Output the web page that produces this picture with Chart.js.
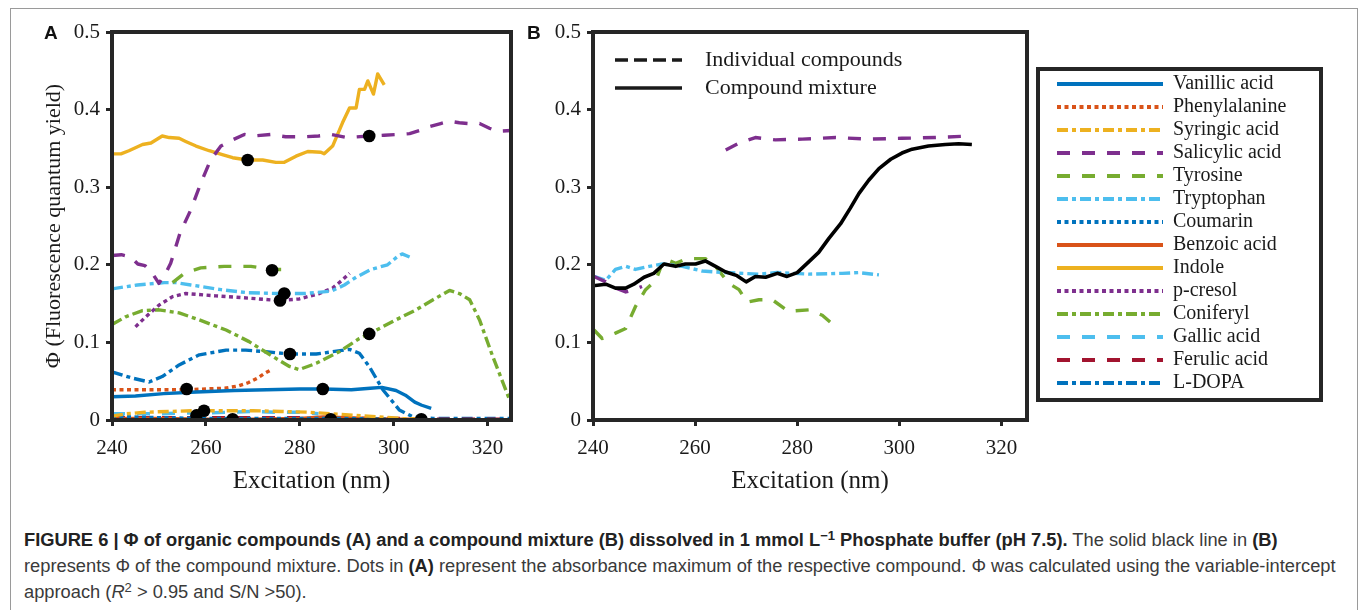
<!DOCTYPE html>
<html>
<head>
<meta charset="utf-8">
<script src="https://cdn.jsdelivr.net/npm/chart.js@4.4.1/dist/chart.umd.min.js"></script>
<style>
  body { margin: 0; width: 1360px; height: 610px; background: #fff; position: relative; overflow: hidden; font-family: "Liberation Sans", Arial, sans-serif; }
  .frame { position: absolute; left: 10px; top: 8px; width: 1346px; height: 640px; border: 1px solid #9a9a9a; }
  canvas { position: absolute; }
  .panel { position: absolute; top: 23px; font: bold 19px "Liberation Sans", Arial, sans-serif; color: #111; line-height: 20px; }
  .legend-box { position: absolute; left: 1036px; top: 67px; width: 279px; height: 327px; border: 4px solid #262626; }
  .caption { position: absolute; left: 24px; font-size: 18.3px; line-height: 20px; color: #3a3a3a; white-space: nowrap; }
  .caption b { color: #222; }
  .sup { position: relative; top: -6px; font-size: 13px; }
</style>
</head>
<body>
<div class="frame"></div>
<canvas id="chartA" width="520" height="500" style="left:0;top:0"></canvas>
<canvas id="chartB" width="520" height="500" style="left:520px;top:0"></canvas>
<canvas id="legendB" width="330" height="80" style="left:609px;top:43px"></canvas>
<div class="legend-box"></div>
<canvas id="legendA" width="279" height="345" style="left:1040px;top:71px"></canvas>
<div class="panel" style="left:44px">A</div>
<div class="panel" style="left:527px">B</div>
<div class="caption" style="top:530px"><b>FIGURE 6 | Φ of organic compounds (A) and a compound mixture (B) dissolved in 1 mmol L<span class="sup">−1</span> Phosphate buffer (pH 7.5).</b> The solid black line in <b>(B)</b></div>
<div class="caption" style="top:556px">represents Φ of the compound mixture. Dots in <b>(A)</b> represent the absorbance maximum of the respective compound. Φ was calculated using the variable-intercept</div>
<div class="caption" style="top:582px">approach (<i>R</i><span class="sup">2</span> &gt; 0.95 and S/N &gt;50).</div>

<script>
// panel A: [excitation nm, quantum yield]
const vanillic = [[240,0.030],[245,0.031],[251,0.034],[258,0.036],[266,0.038],[273,0.039],[280,0.040],[285,0.040],[291,0.039],[295,0.041],[297.5,0.042],[300.5,0.038],[302.5,0.032],[304.5,0.023],[306,0.019],[308,0.015]];
const phenylalanine = [[240,0.039],[245,0.039],[250,0.039],[256,0.039],[260,0.040],[264,0.041],[267,0.044],[269,0.048],[271,0.054],[272.5,0.060],[274,0.065]];
const syringic = [[240,0.005],[243,0.008],[247,0.010],[252,0.011],[258,0.012],[264,0.012],[270,0.012],[276,0.011],[282,0.010],[287,0.008],[292,0.006],[297,0.004],[302,0.002],[306,0.001]];
const salicylic = [[240,0.212],[242,0.213],[244,0.210],[245.5,0.201],[247,0.199],[248.5,0.190],[250,0.176],[251.5,0.190],[252.5,0.202],[254.5,0.241],[256.8,0.271],[258.9,0.305],[261,0.335],[263.2,0.353],[265.7,0.361],[268.2,0.368],[270,0.366],[273.8,0.368],[277,0.365],[281,0.365],[284,0.366],[286.7,0.368],[290,0.364],[294.8,0.366],[298,0.367],[301.2,0.368],[303.4,0.369],[305.5,0.373],[307.6,0.378],[310,0.382],[311.9,0.385],[314,0.383],[316,0.382],[318.3,0.382],[320.4,0.376],[322,0.372],[325,0.373]];
const tyrosine = [[252.9,0.177],[255.4,0.189],[258.9,0.196],[263.9,0.198],[269.6,0.198],[273.9,0.194],[277.4,0.194]];
const tryptophan = [[240,0.169],[245.4,0.174],[251.1,0.177],[253.6,0.177],[256.8,0.174],[263.2,0.168],[268.9,0.164],[275.3,0.163],[281,0.163],[286.7,0.166],[289.5,0.174],[292,0.184],[295.2,0.194],[298.7,0.200],[300.9,0.211],[301.8,0.214],[303.4,0.210]];
const coumarin = [[240,0.005],[244,0.004],[250,0.003],[260,0.002],[270,0.002],[280,0.002],[290,0.002],[300,0.001]];
const benzoic = [[240,0.002],[250,0.002],[260,0.001],[270,0.001],[280,0.002],[285,0.004],[290,0.003],[295,0.002],[300,0.001],[305,0.001]];
const indole = [[240,0.343],[241.9,0.343],[243.6,0.347],[246.5,0.355],[248.3,0.357],[250.7,0.366],[252.2,0.364],[254.3,0.363],[255.7,0.359],[257.9,0.353],[260.7,0.347],[263.5,0.342],[265.7,0.338],[268.9,0.335],[272.1,0.335],[274.9,0.332],[276.7,0.332],[279.2,0.340],[281.7,0.346],[284.5,0.345],[285.2,0.343],[287,0.353],[289.1,0.383],[290.6,0.402],[292,0.402],[292.7,0.426],[293.8,0.426],[294.5,0.437],[295.7,0.420],[296.6,0.446],[298,0.432]];
const pcresol = [[245,0.120],[247.2,0.133],[250,0.148],[252.9,0.159],[255.7,0.163],[262.1,0.160],[269.2,0.157],[275.6,0.154],[279.9,0.156],[284.2,0.163],[287,0.170],[289,0.180],[290.6,0.189]];
const coniferyl = [[240,0.123],[242.9,0.133],[246.5,0.141],[250,0.142],[254.3,0.138],[258.6,0.129],[264.3,0.116],[269.2,0.101],[274.2,0.082],[277.8,0.069],[279.9,0.065],[283.5,0.073],[288.4,0.088],[292.7,0.105],[294.8,0.111],[299.8,0.127],[304.8,0.142],[308.4,0.155],[311.9,0.167],[314,0.163],[316.2,0.155],[318.3,0.129],[321.1,0.082],[324.7,0.026]];
const gallic = [[240,0.008],[245,0.008],[250,0.008],[255,0.009],[260,0.009],[265,0.010],[270,0.011],[275,0.010],[280,0.010],[284,0.008]];
const ferulic = [[240,0.003],[250,0.003],[260,0.003],[270,0.003],[280,0.003],[290,0.002],[300,0.002],[310,0.001],[325,0.001]];
const ldopa = [[240,0.062],[244.3,0.054],[247.9,0.049],[250.7,0.056],[254.3,0.071],[258.6,0.084],[264.3,0.090],[268.5,0.090],[272.8,0.088],[277.9,0.085],[283.5,0.085],[287,0.088],[290.6,0.091],[292.7,0.086],[294.8,0.069],[297.7,0.039],[301.2,0.013],[304.1,0.004],[308.4,0.002],[315,0.002],[325,0.002]];

// absorbance maxima (dots in A)
const dotX = [268.9, 294.8, 274.1, 276.7, 275.8, 277.9, 294.8, 255.9, 284.9, 258.0, 259.6, 265.7, 286.6, 305.9];
const dotY = [0.335, 0.366, 0.193, 0.163, 0.154, 0.085, 0.111, 0.040, 0.040, 0.006, 0.012, 0.001, 0.001, 0.001];

// panel B
const mixture = [[240,0.173],[242.5,0.175],[244.4,0.170],[246.4,0.170],[248,0.175],[250,0.184],[251.9,0.189],[253.9,0.201],[256.2,0.198],[258.1,0.201],[260.1,0.201],[262,0.205],[264,0.198],[265.9,0.191],[268.2,0.186],[270,0.178],[271.8,0.185],[273.8,0.184],[276.1,0.189],[278,0.185],[280,0.190],[282.3,0.204],[284.2,0.216],[286.2,0.234],[288.5,0.253],[290.4,0.273],[292.1,0.292],[294,0.309],[296,0.324],[298.3,0.336],[300.5,0.344],[302.5,0.349],[305.7,0.353],[309,0.355],[311.6,0.356],[314.2,0.355]];
const salicylicB = [[240.2,0.185],[242.5,0.178],[244.4,0.170],[246.4,0.165],[248,0.168],[249.6,0.172],[258,null],[266,0.348],[268.6,0.357],[271.8,0.364],[275.7,0.361],[281,0.362],[287.5,0.364],[294,0.362],[300.5,0.363],[307,0.364],[313.9,0.366]];
const tryptophanB = [[240.2,0.185],[242.5,0.180],[244.4,0.194],[246.4,0.198],[248.3,0.194],[251,0.198],[253.6,0.201],[257.5,0.198],[261.4,0.192],[265.9,0.190],[272.5,0.188],[276,0.190],[282.3,0.188],[288.8,0.189],[292,0.190],[296,0.187]];
const tyrosineB = [[240.2,0.116],[241.8,0.105],[244.4,0.112],[246.4,0.118],[248.3,0.146],[250.3,0.168],[252.3,0.180],[253.9,0.208],[256.2,0.202],[258.4,0.208],[262,0.208],[264,0.198],[266.6,0.176],[268.6,0.168],[270.2,0.152],[272.5,0.155],[275.1,0.155],[278.3,0.140],[282.3,0.142],[284.9,0.135],[287.2,0.122]];

const xTicks = [240, 260, 280, 300, 320];
const yTicks = [0, 0.1, 0.2, 0.3, 0.4, 0.5];

const namesA = ["Vanillic acid", "Phenylalanine", "Syringic acid", "Salicylic acid", "Tyrosine", "Tryptophan", "Coumarin", "Benzoic acid", "Indole", "p-cresol", "Coniferyl", "Gallic acid", "Ferulic acid", "L-DOPA"];
const valuesA = [vanillic, phenylalanine, syringic, salicylic, tyrosine, tryptophan, coumarin, benzoic, indole, pcresol, coniferyl, gallic, ferulic, ldopa];

// styles
const SOLID = [], DOT = [4, 3.5], DASH = [13, 12], DASHDOT = [11, 4, 4, 4];
const colorsA = ["#0072BD", "#D95319", "#EDB120", "#7E2F8E", "#77AC30", "#4DBEEE", "#0072BD", "#D95319", "#EDB120", "#7E2F8E", "#77AC30", "#4DBEEE", "#A2142F", "#0072BD"];
const dashesA = [SOLID, DOT, DASHDOT, DASH, DASH, DASHDOT, DOT, SOLID, SOLID, DOT, DASHDOT, DASH, DASH, DASHDOT];
const INK = "#1a1a1a";

Chart.defaults.font.family = "'Liberation Serif', 'Times New Roman', serif";
Chart.defaults.color = INK;

const toXY = arr => arr.map(p => ({ x: p[0], y: p[1] }));

function lineSet(label, data, color, dash, width) {
  return {
    label: label,
    data: toXY(data),
    borderColor: color,
    backgroundColor: color,
    borderDash: dash,
    borderWidth: width || 3.4,
    borderCapStyle: "butt",
    borderJoinStyle: "round",
    pointRadius: 0,
    tension: 0,
    fill: false,
    spanGaps: false,
    order: 1,
  };
}

// thick box round the plot area
const frameBox = {
  id: "frameBox",
  afterDatasetsDraw(chart) {
    const a = chart.chartArea;
    const ctx = chart.ctx;
    ctx.save();
    ctx.strokeStyle = "#262626";
    ctx.lineWidth = 4;
    ctx.strokeRect(a.left, a.top, a.right - a.left, a.bottom - a.top);
    ctx.restore();
  },
};

function makeScales(yWidth, yTitle) {
  return {
    x: {
      type: "linear",
      min: 240,
      max: 325,
      afterFit: s => { s.height = 80; },
      afterBuildTicks: s => { s.ticks = xTicks.map(v => ({ value: v })); },
      border: { display: false },
      grid: { drawOnChartArea: false, tickLength: 6, tickWidth: 3, tickColor: "#262626" },
      ticks: { padding: 10, maxRotation: 0, font: { size: 21 }, color: INK },
      title: { display: true, text: "Excitation (nm)", font: { size: 25 }, color: INK, padding: { top: 0, bottom: 4 } },
    },
    y: {
      min: 0,
      max: 0.5,
      afterFit: s => { s.width = yWidth; },
      afterBuildTicks: s => { s.ticks = yTicks.map(v => ({ value: v })); },
      border: { display: false },
      grid: { drawOnChartArea: false, tickLength: 6, tickWidth: 3, tickColor: "#262626" },
      ticks: {
        padding: 6,
        font: { size: 21 },
        color: INK,
        callback: v => (v === 0 ? "0" : v.toFixed(1)),
      },
      title: yTitle
        ? { display: true, text: yTitle, font: { size: 22 }, color: INK, padding: { top: 41, bottom: 0 } }
        : { display: false },
    },
  };
}

const baseOptions = {
  responsive: false,
  animation: false,
  events: [],
  plugins: { legend: { display: false }, tooltip: { enabled: false } },
};

// panel A
const datasetsA = valuesA.map((v, i) => lineSet(namesA[i], v, colorsA[i], dashesA[i]));
datasetsA.unshift({
  label: "Absorbance maximum",
  data: dotX.map((x, i) => ({ x: x, y: dotY[i] })),
  showLine: false,
  pointRadius: 6.3,
  pointBackgroundColor: "#000",
  pointBorderColor: "#000",
  pointBorderWidth: 0,
  order: 0,
});

new Chart(document.getElementById("chartA"), {
  type: "line",
  data: { datasets: datasetsA },
  options: Object.assign({}, baseOptions, {
    layout: { padding: { left: 0, top: 32, right: 9, bottom: 0 } },
    scales: makeScales(112, "Φ (Fluorescence quantum yield)"),
  }),
  plugins: [frameBox],
});

// panel B
new Chart(document.getElementById("chartB"), {
  type: "line",
  data: {
    datasets: [
      lineSet("Compound mixture", mixture, "#000", SOLID, 3.6),
      lineSet("Salicylic acid", salicylicB, "#7E2F8E", DASH),
      lineSet("Tryptophan", tryptophanB, "#4DBEEE", DASHDOT),
      lineSet("Tyrosine", tyrosineB, "#77AC30", DASH),
    ],
  },
  options: Object.assign({}, baseOptions, {
    layout: { padding: { left: 0, top: 32, right: 13, bottom: 0 } },
    scales: makeScales(73, null),
  }),
  plugins: [frameBox],
});

// legend inside panel B
const keyNamesB = ["Individual compounds", "Compound mixture"];
const keyDashesB = [[13, 6, 13, 6, 13, 6, 10, 200], [67, 200]];

new Chart(document.getElementById("legendB"), {
  type: "line",
  data: { datasets: [] },
  options: Object.assign({}, baseOptions, {
    layout: { padding: 0 },
    scales: { x: { display: false }, y: { display: false } },
    plugins: {
      tooltip: { enabled: false },
      legend: {
        position: "chartArea",
        align: "start",
        labels: {
          usePointStyle: true,
          pointStyleWidth: 79,
          padding: 6,
          font: { size: 22 },
          color: INK,
          generateLabels: () => keyNamesB.map((n, i) => ({
            text: n, strokeStyle: INK, fillStyle: INK, fontColor: INK, lineWidth: 3.5,
            lineDash: keyDashesB[i], lineCap: "butt", pointStyle: "line", rotation: 180, hidden: false,
          })),
        },
      },
    },
  }),
});

// compound legend on the right
new Chart(document.getElementById("legendA"), {
  type: "line",
  data: { datasets: [] },
  options: Object.assign({}, baseOptions, {
    layout: { padding: { left: 14, top: 0, right: 0, bottom: 0 } },
    scales: { x: { display: false }, y: { display: false } },
    plugins: {
      tooltip: { enabled: false },
      legend: {
        position: "chartArea",
        align: "start",
        labels: {
          usePointStyle: true,
          pointStyleWidth: 106,
          padding: 3,
          font: { size: 20 },
          color: INK,
          generateLabels: () => namesA.map((n, i) => ({
            text: n, strokeStyle: colorsA[i], fillStyle: colorsA[i], fontColor: INK, lineWidth: 4,
            lineDash: dashesA[i], lineCap: "butt", pointStyle: "line", rotation: 180, hidden: false,
          })),
        },
      },
    },
  }),
});
</script>
</body>
</html>
